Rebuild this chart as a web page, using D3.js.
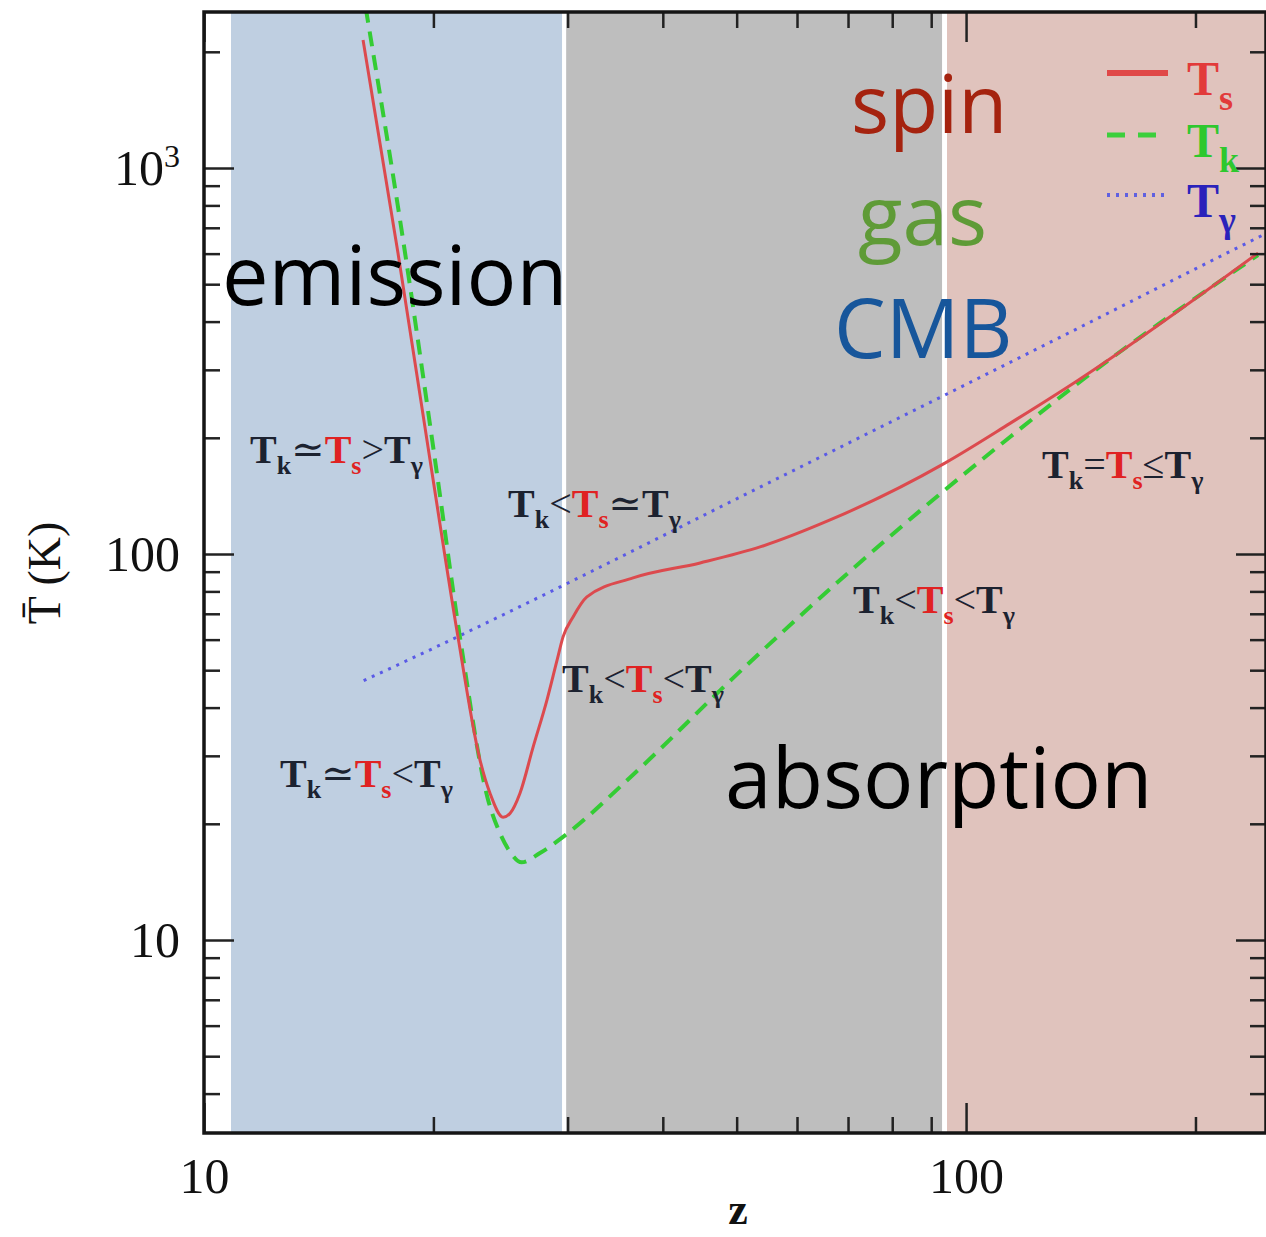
<!DOCTYPE html>
<html>
<head>
<meta charset="utf-8">
<script src="https://cdn.jsdelivr.net/npm/d3@7"></script>
<style>
  html, body { margin: 0; padding: 0; background: #fff; }
  svg { display: block; }
</style>
</head>
<body>
<div id="chart"></div>
<script>
// spin temperature T_s (K) against redshift z
const zSpin = [16.17, 17.97, 19.8, 21.54, 23.02, 23.73, 24.69, 25.22, 25.98, 27.03, 28.19, 29.06, 29.59, 30.5, 31.8, 36.56, 44.77, 53.66, 66.3, 93.8, 114.2, 140.3, 241.6];
const tSpin = [2146, 602, 175, 61.0, 29.3, 24.0, 20.8, 21.3, 24.0, 31.6, 41.9, 53.1, 61.0, 68.7, 77.4, 86.7, 94.8, 104.3, 122.5, 172, 218, 282, 602];

// gas kinetic temperature T_k (K)
const zGas = [16.3, 18.36, 20.1, 21.7, 23.59, 24.46, 25.22, 26.1, 27.6, 29.59, 36.56, 49.45, 70.0, 93.8, 114.2, 140.3, 241.6];
const tGas = [2600, 602, 175, 59.8, 23.1, 18.9, 16.9, 15.9, 16.8, 18.5, 26.8, 47.7, 89.3, 146.5, 201, 277, 595];

// CMB temperature T_gamma (K)
const zCmb = [16.2, 20, 30, 50, 100, 150, 200, 245];
const tCmb = [47, 57, 84, 139, 275, 411, 548, 670];

// shaded redshift bands
const bandStart = [10.85, 29.87, 94.4];
const bandEnd = [29.5, 93.0, 260];

const xMajor = [10, 100];
const xMinor = [20, 30, 40, 50, 60, 70, 80, 90, 200];
const yMajor = [10, 100, 1000];
const yMinor = [4, 5, 6, 7, 8, 9, 20, 30, 40, 50, 60, 70, 80, 90, 200, 300, 400, 500, 600, 700, 800, 900, 2000];

// regime labels: T_k <rel0> T_s <rel1> T_gamma
const regimeRel = [['≃', '>'], ['<', '≃'], ['=', '≤'], ['<', '<'], ['<', '<'], ['≃', '<']];
const legendSubs = ['s', 'k', 'γ'];
const wordLabels = ['spin', 'gas', 'CMB', 'emission', 'absorption'];

const width = 1266;
const height = 1237;
const plot = { left: 204, right: 1266, top: 12, bottom: 1133 };

const serif = '"Liberation Serif", "DejaVu Serif", serif';
const sans = '"Open Sans", "Liberation Sans", sans-serif';

const bandColors = ['#bfcfe1', '#bebebe', '#e0c3bd'];
const spinColor = '#dc4a4e';
const gasColor = '#34cc34';
const cmbColor = '#5a5ae6';
const ink = '#1c2230';
const redInk = '#e02222';

const x = d3.scaleLog().domain([10, 247.5]).range([plot.left, plot.right]);
const y = d3.scaleLog().domain([3.1623, 2536]).range([plot.bottom, plot.top]);

const svg = d3.select('#chart').append('svg')
  .attr('width', width)
  .attr('height', height)
  .attr('viewBox', `0 0 ${width} ${height}`);

svg.append('clipPath').attr('id', 'clip')
  .append('rect')
  .attr('x', plot.left).attr('y', plot.top)
  .attr('width', plot.right - plot.left).attr('height', plot.bottom - plot.top);

const inner = svg.append('g').attr('clip-path', 'url(#clip)');

// bands
inner.selectAll('rect.band')
  .data(d3.range(bandStart.length))
  .enter()
  .append('rect')
  .attr('class', 'band')
  .attr('x', i => x(bandStart[i]))
  .attr('width', i => x(bandEnd[i]) - x(bandStart[i]))
  .attr('y', plot.top)
  .attr('height', plot.bottom - plot.top)
  .attr('fill', i => bandColors[i]);

// curves
const line = d3.line()
  .x(d => x(d[0]))
  .y(d => y(d[1]))
  .curve(d3.curveMonotoneX);

inner.append('path')
  .attr('d', line(d3.zip(zCmb, tCmb)))
  .attr('fill', 'none')
  .attr('stroke', cmbColor)
  .attr('stroke-width', 3)
  .attr('stroke-dasharray', '3,6');

inner.append('path')
  .attr('d', line(d3.zip(zGas, tGas)))
  .attr('fill', 'none')
  .attr('stroke', gasColor)
  .attr('stroke-width', 4)
  .attr('stroke-dasharray', '15,9');

inner.append('path')
  .attr('d', line(d3.zip(zSpin, tSpin)))
  .attr('fill', 'none')
  .attr('stroke', spinColor)
  .attr('stroke-width', 3);

// axes, ticks pointing inwards
const tickStyle = g => {
  g.select('.domain').remove();
  g.selectAll('line').attr('stroke', '#222').attr('stroke-width', 2.5);
  g.selectAll('text')
    .attr('font-family', serif)
    .attr('font-size', 50)
    .attr('fill', '#111');
};

svg.append('g')
  .attr('transform', `translate(0,${plot.bottom})`)
  .call(d3.axisBottom(x).tickValues(xMajor).tickSizeInner(-30).tickSizeOuter(0).tickPadding(24).tickFormat(d3.format('d')))
  .call(tickStyle);

svg.append('g')
  .attr('transform', `translate(0,${plot.bottom})`)
  .call(d3.axisBottom(x).tickValues(xMinor).tickSizeInner(-16).tickSizeOuter(0).tickFormat(''))
  .call(tickStyle);

svg.append('g')
  .attr('transform', `translate(0,${plot.top})`)
  .call(d3.axisTop(x).tickValues(xMajor).tickSizeInner(-30).tickSizeOuter(0).tickFormat(''))
  .call(tickStyle);

svg.append('g')
  .attr('transform', `translate(0,${plot.top})`)
  .call(d3.axisTop(x).tickValues(xMinor).tickSizeInner(-16).tickSizeOuter(0).tickFormat(''))
  .call(tickStyle);

const leftMajor = svg.append('g')
  .attr('transform', `translate(${plot.left},0)`)
  .call(d3.axisLeft(y).tickValues(yMajor).tickSizeInner(-30).tickSizeOuter(0).tickPadding(24)
    .tickFormat(d => d === 1000 ? '10' : d3.format('d')(d)))
  .call(tickStyle);

leftMajor.selectAll('text')
  .filter(d => d === 1000)
  .append('tspan')
  .attr('font-size', 32)
  .attr('dy', '-0.55em')
  .text('3');

svg.append('g')
  .attr('transform', `translate(${plot.left},0)`)
  .call(d3.axisLeft(y).tickValues(yMinor).tickSizeInner(-16).tickSizeOuter(0).tickFormat(''))
  .call(tickStyle);

svg.append('g')
  .attr('transform', `translate(${plot.right},0)`)
  .call(d3.axisRight(y).tickValues(yMajor).tickSizeInner(-30).tickSizeOuter(0).tickFormat(''))
  .call(tickStyle);

svg.append('g')
  .attr('transform', `translate(${plot.right},0)`)
  .call(d3.axisRight(y).tickValues(yMinor).tickSizeInner(-16).tickSizeOuter(0).tickFormat(''))
  .call(tickStyle);

// frame
svg.append('rect')
  .attr('x', plot.left).attr('y', plot.top)
  .attr('width', plot.right - plot.left).attr('height', plot.bottom - plot.top)
  .attr('fill', 'none')
  .attr('stroke', '#151515')
  .attr('stroke-width', 3.5);

// axis titles
svg.append('text')
  .attr('x', 738).attr('y', 1224)
  .attr('text-anchor', 'middle')
  .attr('font-family', serif)
  .attr('font-weight', 'bold')
  .attr('font-size', 44)
  .attr('fill', '#111')
  .text('z');

svg.append('text')
  .attr('transform', 'translate(60,573) rotate(-90)')
  .attr('text-anchor', 'middle')
  .attr('font-family', serif)
  .attr('font-size', 46)
  .attr('fill', '#111')
  .text('T\u0304 (K)');

// regime labels
const regimePos = [[250, 463], [508, 517], [1042, 478], [853, 613], [562, 692], [280, 787]];

const regimes = svg.append('g')
  .attr('font-family', serif)
  .attr('font-weight', 'bold')
  .attr('font-size', 40);

regimeRel.forEach((rel, i) => {
  const t = regimes.append('text')
    .attr('x', regimePos[i][0])
    .attr('y', regimePos[i][1])
    .attr('fill', ink);
  const pieces = [
    ['T', ink, 0, 40], ['k', ink, 11, 26], [rel[0], ink, -11, 40],
    ['T', redInk, 0, 40], ['s', redInk, 11, 26], [rel[1], ink, -11, 40],
    ['T', ink, 0, 40], ['γ', ink, 11, 26]
  ];
  pieces.forEach(p => {
    t.append('tspan')
      .attr('fill', p[1])
      .attr('dy', p[2])
      .attr('font-size', p[3])
      .attr('font-weight', p[3] === 40 && p[0] !== 'T' ? 'normal' : 'bold')
      .text(p[0]);
  });
});

// legend
const legendColors = ['#e23a3a', '#2ec82e', '#2a22bb'];
const legendLineColors = ['#e04848', '#3ccf3c', '#6060e0'];
const legendDash = [null, '18,13', '3,6'];
const legendWidth = [6, 5, 4];
const legendY = [73, 135, 195];

const legend = svg.append('g');
legendSubs.forEach((s, i) => {
  legend.append('line')
    .attr('x1', 1107).attr('x2', 1168)
    .attr('y1', legendY[i]).attr('y2', legendY[i])
    .attr('stroke', legendLineColors[i])
    .attr('stroke-width', legendWidth[i])
    .attr('stroke-dasharray', legendDash[i]);
  const t = legend.append('text')
    .attr('x', 1187)
    .attr('y', legendY[i] + 22)
    .attr('font-family', serif)
    .attr('font-weight', 'bold')
    .attr('font-size', 48)
    .attr('fill', legendColors[i]);
  t.append('tspan').text('T');
  t.append('tspan').attr('font-size', 36).attr('dy', 15).text(s);
});

// big word annotations
const wordPos = [[851, 133], [858, 245], [834, 358], [222, 305], [725, 808]];
const wordColors = ['#a5230f', '#5f9b37', '#17569b', '#000', '#000'];
const wordSize = [80, 82, 82, 83, 84];

svg.append('g')
  .selectAll('text')
  .data(wordLabels)
  .enter()
  .append('text')
  .attr('x', (d, i) => wordPos[i][0])
  .attr('y', (d, i) => wordPos[i][1])
  .attr('font-family', sans)
  .attr('font-size', (d, i) => wordSize[i])
  .attr('fill', (d, i) => wordColors[i])
  .text(d => d);
</script>
</body>
</html>
